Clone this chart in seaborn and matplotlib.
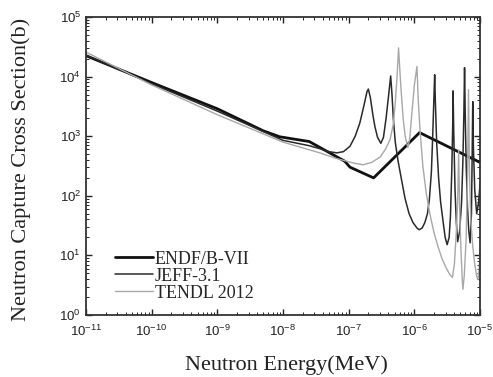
import numpy as np
import pandas as pd
import seaborn as sns
import matplotlib
matplotlib.use("Agg")
import matplotlib.pyplot as plt
from matplotlib.ticker import LogLocator, NullFormatter

# data (log10 of energy in MeV, log10 of cross section in b)
endf_logE = [-11, -10, -9, -8.3, -8.05, -7.6, -7.06, -6.98, -6.62, -5.92, -5.0]
endf_logS = [4.35, 3.90, 3.46, 3.09, 2.99, 2.91, 2.58, 2.48, 2.30, 3.06, 2.56]

jeff_logE = [-11, -10, -9, -8, -7.6, -7.44, -7.3, -7.18, -7.08, -6.98, -6.90,
             -6.83, -6.77, -6.72, -6.70, -6.67, -6.63, -6.60, -6.56, -6.51,
             -6.47, -6.43, -6.39, -6.36, -6.34, -6.32, -6.29, -6.25, -6.20,
             -6.14, -6.08, -6.02, -5.96, -5.925, -5.88, -5.84, -5.80, -5.77,
             -5.74, -5.72, -5.70, -5.69, -5.68, -5.66, -5.63, -5.60, -5.56,
             -5.53, -5.50, -5.47, -5.45, -5.43, -5.415, -5.41, -5.40, -5.38,
             -5.36, -5.34, -5.31, -5.28, -5.26, -5.245, -5.235, -5.225, -5.21,
             -5.19, -5.17, -5.15, -5.13, -5.12, -5.11, -5.10, -5.08, -5.05,
             -5.02, -5.0]
jeff_logS = [4.36, 3.88, 3.42, 2.93, 2.84, 2.79, 2.74, 2.72, 2.74, 2.83, 3.00,
             3.22, 3.50, 3.75, 3.79, 3.65, 3.35, 3.16, 2.98, 2.88,
             2.98, 3.30, 3.70, 4.01, 3.70, 3.30, 2.90, 2.60, 2.30,
             1.95, 1.70, 1.55, 1.46, 1.43, 1.46, 1.55, 1.70, 1.95,
             2.40, 3.00, 3.70, 4.03, 3.60, 2.90, 2.30, 1.90, 1.55,
             1.30, 1.18, 1.30, 1.65, 2.40, 3.20, 3.76, 3.10, 2.10,
             1.55, 1.23, 1.40, 1.90, 2.60, 3.40, 4.15, 3.40, 2.50,
             1.80, 1.40, 1.21, 1.70, 2.60, 3.58, 2.80, 2.10, 1.70,
             1.90, 2.20]

tendl_logE = [-11, -10, -9, -8, -7.44, -7.2, -6.93, -6.78, -6.65, -6.52, -6.44,
              -6.37, -6.32, -6.29, -6.26, -6.24, -6.22, -6.20, -6.17, -6.14,
              -6.10, -6.07, -6.04, -6.00, -5.96, -5.94, -5.91, -5.87, -5.82,
              -5.76, -5.70, -5.64, -5.58, -5.52, -5.46, -5.42, -5.39, -5.36,
              -5.34, -5.325, -5.31, -5.29, -5.27, -5.26, -5.24, -5.21, -5.19,
              -5.175, -5.16, -5.14, -5.11, -5.08, -5.05, -5.03, -5.01, -5.0]
tendl_logS = [4.41, 3.86, 3.36, 2.90, 2.72, 2.63, 2.55, 2.52, 2.56, 2.65, 2.78,
              2.94, 3.20, 3.56, 4.05, 4.48, 4.10, 3.75, 3.30, 3.00,
              2.81, 2.95, 3.35, 3.85, 4.17, 3.60, 3.05, 2.50, 2.05,
              1.68, 1.38, 1.15, 0.95, 0.80, 0.68, 0.63, 0.85, 1.40,
              1.90, 2.77, 1.80, 1.10, 0.60, 0.43, 0.65, 1.30, 2.30,
              3.78, 2.40, 1.60, 1.15, 0.85, 0.65, 0.59, 0.80, 1.10]

series = [("ENDF/B-VII", endf_logE, endf_logS),
          ("JEFF-3.1", jeff_logE, jeff_logS),
          ("TENDL 2012", tendl_logE, tendl_logS)]
frames = []
for name, le, ls in series:
    frames.append(pd.DataFrame({"energy": 10.0 ** np.array(le),
                                "xs": 10.0 ** np.array(ls),
                                "library": name}))
df = pd.concat(frames, ignore_index=True)

sns.set_style("ticks")
plt.rcParams["font.family"] = ["Liberation Serif", "DejaVu Serif"]

fig = plt.figure(figsize=(4.93, 3.77), dpi=100)
ax = fig.add_axes([0.1744, 0.1645, 0.7992, 0.7905])

styles = {"ENDF/B-VII": ("#111111", 2.0),
          "JEFF-3.1": ("#2a2a2a", 1.1),
          "TENDL 2012": ("#a8a8a8", 1.0)}
for name, _, _ in series:
    color, lw = styles[name]
    sns.lineplot(data=df[df["library"] == name], x="energy", y="xs", sort=False,
                 estimator=None, color=color, linewidth=lw, label=name, ax=ax)

ax.set(xscale="log", yscale="log")
ax.set_xlim(1e-11, 1e-5)
ax.set_ylim(1e0, 1e5)
ax.xaxis.set_major_locator(LogLocator(base=10, numticks=20))
ax.yaxis.set_major_locator(LogLocator(base=10, numticks=20))
ax.xaxis.set_minor_locator(LogLocator(base=10, subs=np.arange(2, 10), numticks=100))
ax.yaxis.set_minor_locator(LogLocator(base=10, subs=np.arange(2, 10), numticks=100))
ax.xaxis.set_minor_formatter(NullFormatter())
ax.yaxis.set_minor_formatter(NullFormatter())
ax.tick_params(which="both", direction="in", top=True, right=True, color="#222222")
ax.tick_params(which="major", length=4, width=1.0)
ax.tick_params(which="minor", length=2, width=0.7)
for lab in ax.get_xticklabels() + ax.get_yticklabels():
    lab.set_fontfamily("Liberation Sans")
    lab.set_fontsize(9.5)
    lab.set_color("#222222")
ax.tick_params(axis="x", pad=6)
for sp in ax.spines.values():
    sp.set_linewidth(1.3)
    sp.set_color("#333333")

ax.set_xlabel("Neutron Energy(MeV)", fontsize=16, color="#222222")
ax.set_ylabel("Neutron Capture Cross Section(b)", fontsize=16, color="#222222")
ax.xaxis.set_label_coords(0.508, -0.135)
ax.yaxis.set_label_coords(-0.14, 0.49)

ax.legend(loc="lower left", bbox_to_anchor=(0.074, 0.045), frameon=False,
          fontsize=13, handlelength=2.1, handletextpad=0.1, labelspacing=0.0,
          borderaxespad=0, borderpad=0)

fig.savefig("out.png", dpi=100)
